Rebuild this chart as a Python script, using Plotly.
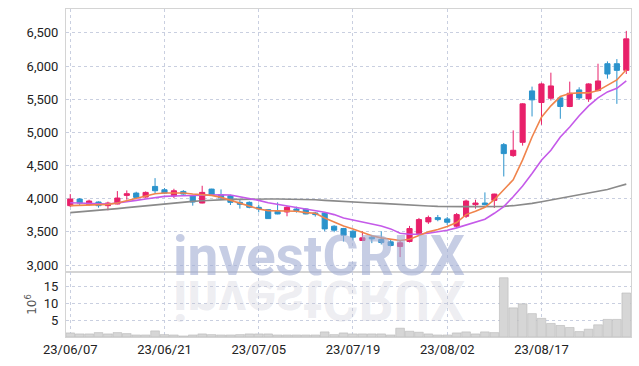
import plotly.graph_objects as go

dates = ["23/06/07","23/06/08","23/06/09","23/06/12","23/06/13","23/06/14","23/06/15","23/06/16","23/06/19","23/06/20",
         "23/06/21","23/06/22","23/06/23","23/06/26","23/06/27","23/06/28","23/06/29","23/06/30","23/07/03","23/07/04",
         "23/07/05","23/07/06","23/07/07","23/07/10","23/07/11","23/07/12","23/07/13","23/07/14","23/07/17","23/07/18",
         "23/07/19","23/07/20","23/07/21","23/07/24","23/07/25","23/07/26","23/07/27","23/07/28","23/07/31","23/08/01",
         "23/08/02","23/08/03","23/08/04","23/08/07","23/08/08","23/08/09","23/08/10","23/08/11","23/08/14","23/08/16",
         "23/08/17","23/08/18","23/08/21","23/08/22","23/08/23","23/08/24","23/08/25","23/08/28","23/08/29","23/08/30"]

open_ = [3895,3995,3910,3950,3895,3920,4050,4085,4025,4185,
         4135,4040,4110,4045,3935,4145,4060,4045,3945,3945,
         3870,3835,3810,3800,3845,3845,3785,3785,3585,3550,
         3510,3370,3420,3385,3350,3280,3355,3475,3650,3715,
         3695,3585,3735,3910,3935,3975,4815,4650,4850,5625,
         5450,5515,5520,5390,5640,5505,5630,6035,6035,5935]
high = [4070,4010,3985,3960,3955,4115,4125,4105,4110,4310,
        4160,4150,4130,4060,4195,4150,4140,4060,3985,3960,
        3910,3840,3945,3890,3880,3855,3800,3790,3600,3560,
        3530,3510,3455,3510,3380,3370,3590,3710,3745,3755,
        3725,3785,3985,3985,4095,4075,4840,5030,5440,5690,
        5750,5900,5530,5765,5680,5740,6035,6070,6105,6530]
low = [3875,3900,3895,3865,3825,3915,3985,4010,4015,4085,
       4070,4010,4060,3895,3930,4055,3985,3905,3850,3855,
       3795,3695,3765,3735,3790,3765,3730,3510,3495,3355,
       3370,3365,3330,3310,3280,3120,3340,3460,3620,3660,
       3605,3560,3710,3850,3900,3860,4335,4630,4800,5240,
       5115,5480,5205,5380,5490,5460,5620,5810,5430,5880]
close = [3995,3935,3965,3895,3935,4010,4075,4020,4095,4120,
         4085,4120,4070,3950,4095,4060,4010,3945,3915,3870,
         3845,3700,3770,3870,3820,3770,3760,3545,3525,3450,
         3420,3410,3395,3340,3295,3335,3550,3685,3715,3685,
         3645,3760,3965,3935,3910,4070,4680,4730,5430,5490,
         5730,5700,5390,5590,5520,5730,5775,5880,5935,6410]

ma_short = [3895,3900,3905,3910,3915,3935,3970,4010,4050,4075,
            4085,4090,4085,4070,4060,4050,4020,3975,3935,3885,
            3845,3820,3815,3815,3810,3790,3780,3710,3645,3590,
            3545,3490,3440,3410,3385,3370,3390,3450,3500,3535,
            3580,3640,3760,3810,3870,3985,4135,4285,4585,4930,
            5230,5400,5540,5585,5595,5595,5630,5715,5790,5945]
ma_mid = [3940,3935,3930,3925,3920,3935,3960,3975,3995,4015,
          4035,4040,4045,4050,4060,4065,4060,4055,4030,4005,
          3975,3940,3915,3890,3870,3850,3825,3795,3760,3710,
          3680,3650,3630,3590,3545,3480,3465,3465,3480,3500,
          3525,3560,3600,3645,3690,3780,3880,4030,4190,4380,
          4580,4730,4930,5080,5250,5400,5520,5610,5665,5775]
ma_long = [3790,3800,3810,3820,3835,3850,3865,3880,3895,3910,
           3925,3940,3950,3960,3970,3980,3985,3990,3990,3995,
           3995,3995,3995,3995,3995,3990,3985,3975,3965,3955,
           3945,3940,3935,3930,3920,3910,3900,3895,3890,3885,
           3880,3880,3880,3880,3880,3880,3885,3895,3910,3930,
           3955,3980,4005,4030,4055,4080,4110,4140,4180,4220]

volume_m = [1.2,0.9,0.9,1.3,0.9,1.3,1.0,0.6,0.6,1.8,
            0.7,0.6,0.3,0.6,0.9,0.7,0.6,0.6,0.7,0.9,
            0.9,0.9,0.6,0.6,0.6,0.6,0.6,1.5,0.7,1.2,
            0.9,0.9,0.9,0.9,0.6,2.6,1.7,1.4,0.9,0.6,
            0.6,1.2,1.5,0.9,1.5,1.3,17.5,8.6,9.8,6.9,
            5.5,4.0,3.4,2.8,1.6,2.3,3.6,5.2,5.2,13.0]

tick_dates = ["23/06/07","23/06/21","23/07/05","23/07/19","23/08/02","23/08/17"]
price_ticks = [3000,3500,4000,4500,5000,5500,6000,6500]
vol_ticks = [5,10,15]

UP = "#e8206a"
DOWN = "#2b93cc"
GRID = "#c9cfe0"
FONT = "Roboto, sans-serif"
TICKFONT = dict(family=FONT, size=13, color="#222")

fig = go.Figure()
fig.add_trace(go.Candlestick(
    x=dates, open=open_, high=high, low=low, close=close,
    increasing=dict(line=dict(color=UP, width=1), fillcolor=UP),
    decreasing=dict(line=dict(color=DOWN, width=1), fillcolor=DOWN),
    xaxis="x", yaxis="y", hoverinfo="skip"))
fig.add_trace(go.Scatter(x=dates, y=ma_long, mode="lines",
                         line=dict(color="#8a8a8a", width=1.6), xaxis="x", yaxis="y"))
fig.add_trace(go.Scatter(x=dates, y=ma_mid, mode="lines",
                         line=dict(color="#c55ae9", width=1.6), xaxis="x", yaxis="y"))
fig.add_trace(go.Scatter(x=dates, y=ma_short, mode="lines",
                         line=dict(color="#f0844c", width=1.6), xaxis="x", yaxis="y"))
fig.add_trace(go.Bar(x=dates, y=volume_m, marker=dict(color="#d6d6d6", line=dict(color="#b8b8b8", width=0.6)),
                     xaxis="x2", yaxis="y2", width=0.92))

split = 65 / 328.0
axis_common = dict(showgrid=True, gridcolor=GRID, griddash="dot", gridwidth=1,
                   showline=True, linecolor="#d4d4d4", mirror=True, ticks="", automargin=False)
fig.update_layout(
    width=639, height=366,
    margin=dict(l=66, r=8, t=9, b=29),
    paper_bgcolor="white", plot_bgcolor="white",
    showlegend=False,
    boxgap=0.22,
    font=dict(family=FONT, size=13, color="#222"),
    xaxis=dict(type="category", domain=[0, 1], anchor="y", range=[-0.45, 59.5],
               rangeslider=dict(visible=False), showticklabels=False,
               tickvals=tick_dates, **axis_common),
    yaxis=dict(domain=[split, 1], range=[2895, 6860], tickvals=price_ticks,
               tickformat=",d", zeroline=False, tickfont=TICKFONT, ticklabelstandoff=4, **axis_common),
    xaxis2=dict(type="category", domain=[0, 1], anchor="y2", matches="x", range=[-0.45, 59.5],
                tickvals=tick_dates, ticktext=tick_dates, tickangle=0,
                tickfont=TICKFONT, **axis_common),
    yaxis2=dict(domain=[0, split], range=[0, 19.2], tickvals=vol_ticks, zeroline=False,
                title=dict(text="10<sup>6</sup>", font=dict(family="DejaVu Sans", size=12, color="#555"), standoff=4),
                tickfont=TICKFONT, ticklabelstandoff=4, **axis_common),
    bargap=0.08,
    annotations=[
        dict(text="<b>investCRUX</b>", xref="paper", yref="paper", x=0.447, y=0.247,
             xanchor="center", yanchor="middle", showarrow=False,
             font=dict(family="Roboto, sans-serif", size=55, color="rgba(160,172,210,0.6)")),
        dict(text="<b>investCRUX</b>", xref="paper", yref="paper", x=0.447, y=0.112,
             xanchor="center", yanchor="middle", showarrow=False,
             font=dict(family="Roboto, sans-serif", size=55, color="rgba(195,195,210,0.3)")),
    ],
)

post = """
document.body.style.margin = '0';
document.body.style.padding = '0';
var gd = document.getElementById('{plot_id}');
function flipRefl(){
  var anns = gd.querySelectorAll('g.annotation');
  if (anns.length > 1) {
    var t = anns[1].querySelector('text');
    if (t) { t.style.transformBox = 'fill-box'; t.style.transformOrigin = 'center'; t.style.transform = 'scaleY(-1)'; }
  }
}
flipRefl();
gd.on('plotly_afterplot', flipRefl);
"""
fig.write_html("out.html", post_script=post, config={"displayModeBar": False})
